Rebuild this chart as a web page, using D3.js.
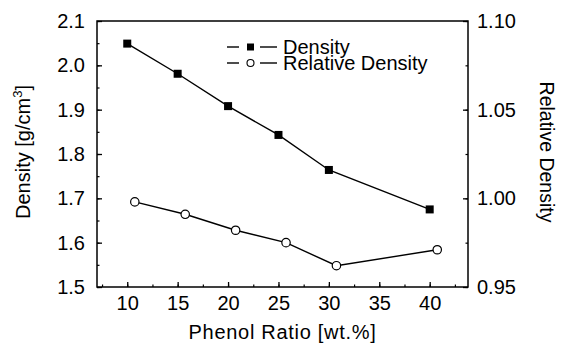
<!DOCTYPE html>
<html>
<head>
<meta charset="utf-8">
<script src="https://cdn.jsdelivr.net/npm/d3@7"></script>
<style>
  body { margin: 0; background: #fff; }
  text { font-family: "Liberation Sans", Arial, sans-serif; fill: #000; }
</style>
</head>
<body>
<div id="graphDiv"></div>
<script>
// data
var phenol = [10, 15, 20, 25, 30, 40];
var density = [2.049, 1.981, 1.908, 1.843, 1.764, 1.675];
// relative density points are drawn slightly right of the nominal ratio
var phenolRel = [10.75, 15.75, 20.75, 25.75, 30.75, 40.75];
var relDensity = [0.998, 0.991, 0.982, 0.975, 0.962, 0.971];
var xTicks = [10, 15, 20, 25, 30, 35, 40];
var yTicks = [1.5, 1.6, 1.7, 1.8, 1.9, 2.0, 2.1];
var y2Ticks = [0.95, 1.00, 1.05, 1.10];

var margin = {top: 21, right: 94, bottom: 57, left: 97},
    outerWidth = 562,
    outerHeight = 344,
    innerWidth = outerWidth - margin.left - margin.right,
    innerHeight = outerHeight - margin.top - margin.bottom;

var svg = d3.select("#graphDiv")
    .append("svg")
    .attr("width", outerWidth)
    .attr("height", outerHeight)
    .append("g")
    .attr("transform", "translate(" + margin.left + "," + margin.top + ")");

var x = d3.scaleLinear().domain([7, 43.8]).range([0, innerWidth]);
var y = d3.scaleLinear().domain([1.5, 2.1]).range([innerHeight, 0]);
var y2 = d3.scaleLinear().domain([0.95, 1.10]).range([innerHeight, 0]);

// frame
svg.append("rect")
    .attr("width", innerWidth).attr("height", innerHeight)
    .attr("fill", "none").attr("stroke", "#000").attr("stroke-width", 1.5);

// minor ticks (inward, short), no labels
function minorAxis(axis, scale, step, tr) {
    var d = scale.domain(), vals = [];
    for (var v = Math.ceil(d[0] / step) * step; v <= d[1] + 1e-9; v += step) vals.push(+v.toFixed(4));
    var g = svg.append("g").attr("transform", tr || null)
        .call(axis(scale).tickValues(vals).tickSize(-2.5));
    g.select(".domain").remove();
    g.selectAll("text").remove();
    g.selectAll("line").attr("stroke-width", 1.2);
}
minorAxis(d3.axisBottom, x, 2.5, "translate(0," + innerHeight + ")");
minorAxis(d3.axisLeft, y, 0.05);
minorAxis(d3.axisRight, y2, 0.025, "translate(" + innerWidth + ",0)");

var gx = svg.append("g")
    .attr("transform", "translate(0," + innerHeight + ")")
    .call(d3.axisBottom(x).tickValues(xTicks).tickSize(-5).tickPadding(8));
var gy = svg.append("g")
    .call(d3.axisLeft(y).tickValues(yTicks).tickSize(-5).tickPadding(12).tickFormat(d3.format(".1f")));
var gy2 = svg.append("g")
    .attr("transform", "translate(" + innerWidth + ",0)")
    .call(d3.axisRight(y2).tickValues(y2Ticks).tickSize(-5).tickPadding(9).tickFormat(d3.format(".2f")));

[gx, gy, gy2].forEach(function(g) {
    g.select(".domain").remove();
    g.selectAll("line").attr("stroke-width", 1.3);
    g.selectAll("text").style("font-size", "20px").style("font-family", "'Liberation Sans', Arial, sans-serif");
});
gx.selectAll("text").attr("dy", "0.75em");

// axis titles
svg.append("text")
    .attr("x", innerWidth / 2).attr("y", innerHeight + 52)
    .attr("text-anchor", "middle").style("font-size", "20px").style("letter-spacing", "0.7px")
    .text("Phenol Ratio [wt.%]");

var lt = svg.append("text")
    .attr("transform", "translate(" + (-67) + "," + (innerHeight / 2 - 2) + ")rotate(-90)")
    .attr("text-anchor", "middle").style("font-size", "20px");
lt.append("tspan").text("Density [g/cm");
lt.append("tspan").attr("dy", -8).style("font-size", "13px").text("3");
lt.append("tspan").attr("dy", 8).text("]");

svg.append("text")
    .attr("transform", "translate(" + (innerWidth + 72) + "," + (innerHeight / 2 - 2) + ")rotate(90)")
    .attr("text-anchor", "middle").style("font-size", "19.5px")
    .text("Relative Density");

// series
var line = d3.line();
svg.append("path")
    .attr("d", line(phenol.map(function(p, i) { return [x(p), y(density[i])]; })))
    .attr("fill", "none").attr("stroke", "#000").attr("stroke-width", 1.4);
svg.append("path")
    .attr("d", line(phenolRel.map(function(p, i) { return [x(p), y2(relDensity[i])]; })))
    .attr("fill", "none").attr("stroke", "#000").attr("stroke-width", 1.4);

svg.selectAll("rect.sq")
    .data(density)
    .enter().append("rect")
    .attr("class", "sq")
    .attr("x", function(d, i) { return x(phenol[i]) - 4; })
    .attr("y", function(d) { return y(d) - 4; })
    .attr("width", 8).attr("height", 8)
    .attr("fill", "#000");

svg.selectAll("circle.ci")
    .data(relDensity)
    .enter().append("circle")
    .attr("class", "ci")
    .attr("cx", function(d, i) { return x(phenolRel[i]); })
    .attr("cy", function(d) { return y2(d); })
    .attr("r", 4.2)
    .attr("fill", "#fff").attr("stroke", "#000").attr("stroke-width", 1.2);

// legend
var legend = svg.append("g").attr("transform", "translate(130,26)");
var items = ["Density", "Relative Density"];
items.forEach(function(name, i) {
    var g = legend.append("g").attr("transform", "translate(0," + (i * 16) + ")");
    g.append("line").attr("x1", 0).attr("x2", 12).attr("stroke", "#000").attr("stroke-width", 1.4);
    g.append("line").attr("x1", 33).attr("x2", 50).attr("stroke", "#000").attr("stroke-width", 1.4);
    if (i === 0) {
        g.append("rect").attr("x", 20).attr("y", -3.5).attr("width", 7).attr("height", 7).attr("fill", "#000");
    } else {
        g.append("circle").attr("cx", 23.5).attr("cy", 0).attr("r", 3.5)
            .attr("fill", "#fff").attr("stroke", "#000").attr("stroke-width", 1.1);
    }
    g.append("text").attr("x", 56).attr("y", 7).style("font-size", "20px").text(name);
});
</script>
</body>
</html>
